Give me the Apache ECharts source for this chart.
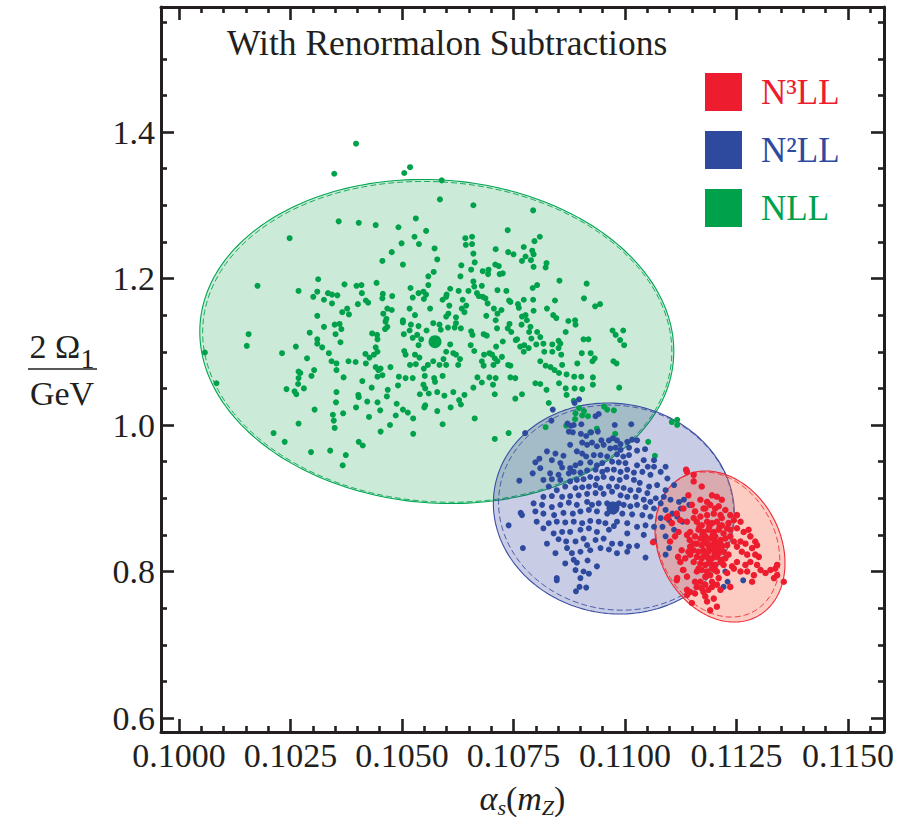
<!DOCTYPE html>
<html><head><meta charset="utf-8">
<script src="https://cdn.jsdelivr.net/npm/echarts@6/dist/echarts.min.js"></script>
<style>html,body{margin:0;padding:0;background:#fff}#c{width:919px;height:819px}</style>
</head><body><div id="c"></div><script>
const FONT = '"Liberation Serif", "Times New Roman", serif';
const INK = '#231f20';

const xMajorTicks = [0.1000, 0.1025, 0.1050, 0.1075, 0.1100, 0.1125, 0.1150];
const xMinorTicks = [0.1005, 0.1010, 0.1015, 0.1020, 0.1030, 0.1035, 0.1040, 0.1045, 0.1055, 0.1060, 0.1065, 0.1070,
  0.1080, 0.1085, 0.1090, 0.1095, 0.1105, 0.1110, 0.1115, 0.1120, 0.1130, 0.1135, 0.1140, 0.1145, 0.1155];
const yMajorTicks = [0.6, 0.8, 1.0, 1.2, 1.4];
const yMinorTicks = [0.65, 0.70, 0.75, 0.85, 0.90, 0.95, 1.05, 1.10, 1.15, 1.25, 1.30, 1.35, 1.45, 1.50, 1.55];
const xRange = [0.099596, 0.115807];
const yRange = [0.58089, 1.57065];

const seriesNames = ['N³LL', 'N²LL', 'NLL'];

// ellipse parameters: [centre x, centre y, half-width x, half-height y, correlation]
const nllEllipse = [0.10578, 1.1140, 0.005314, 0.2212, -0.06];
const nllEllipseDashed = [0.10579, 1.1135, 0.005260, 0.2190, -0.06];
const n2llEllipse = [0.10975, 0.8860, 0.002702, 0.1440, -0.05];
const n2llEllipseDashed = [0.10980, 0.8872, 0.002635, 0.1400, -0.05];
const n3llEllipse = [0.11213, 0.8341, 0.001457, 0.1031, -0.22];
const n3llEllipseDashed = [0.11208, 0.8368, 0.001390, 0.0990, -0.22];

const nllCentre = [[0.10574, 1.1137]];
const n2llCentre = [[0.10973, 0.8867]];
const n3llCentre = [[0.11210, 0.8360]];

const nllPoints = [
[0.10397,1.384],[0.10348,1.343],[0.10505,1.344],[0.10358,1.278],[0.10403,1.276],[0.10441,1.273],[0.10492,1.270],[0.10248,1.255],[0.10499,1.248],[0.10477,1.236],[0.10456,1.224],[0.10502,1.219],[0.10176,1.190],[0.10312,1.199],[0.10268,1.183],[0.10371,1.192],[0.10398,1.190],[0.10409,1.191],[0.10443,1.194],[0.10310,1.182],[0.10301,1.175],[0.10325,1.171],[0.10334,1.180],[0.10343,1.178],[0.10355,1.177],[0.10343,1.166],[0.10410,1.180],[0.10401,1.165],[0.10419,1.170],[0.10424,1.167],[0.10457,1.179],[0.10456,1.173],[0.10478,1.176],[0.10519,1.187],[0.10377,1.159],[0.10366,1.154],[0.10381,1.151],[0.10310,1.149],[0.10467,1.159],[0.10477,1.157],[0.10458,1.152],[0.10465,1.145],[0.10463,1.141],[0.10517,1.159],[0.10502,1.143],[0.10502,1.140],[0.10325,1.134],[0.10349,1.137],[0.10360,1.138],[0.10364,1.131],[0.10351,1.124],[0.10293,1.126],[0.10156,1.124],[0.10152,1.108],[0.10310,1.117],[0.10310,1.111],[0.10321,1.106],[0.10336,1.098],[0.10362,1.113],[0.10262,1.107],[0.10231,1.098],[0.10058,1.099],[0.10433,1.125],[0.10444,1.123],[0.10445,1.117],[0.10467,1.134],[0.10462,1.131],[0.10504,1.124],[0.10517,1.129],[0.10441,1.106],[0.10445,1.100],[0.10437,1.096],[0.10427,1.092],[0.10418,1.097],[0.10505,1.101],[0.10508,1.096],[0.10287,1.091],[0.10342,1.087],[0.10353,1.084],[0.10380,1.087],[0.10396,1.086],[0.10419,1.084],[0.10474,1.079],[0.10441,1.079],[0.10447,1.075],[0.10452,1.077],[0.10456,1.068],[0.10445,1.066],[0.10493,1.066],[0.10508,1.064],[0.10268,1.073],[0.10272,1.071],[0.10303,1.075],[0.10297,1.067],[0.10268,1.064],[0.10267,1.056],[0.10280,1.050],[0.10241,1.049],[0.10259,1.046],[0.10263,1.042],[0.10353,1.075],[0.10369,1.065],[0.10411,1.060],[0.10432,1.051],[0.10468,1.048],[0.10491,1.054],[0.10466,1.039],[0.10353,1.045],[0.10402,1.041],[0.10403,1.038],[0.10352,1.031],[0.10422,1.032],[0.10445,1.031],[0.10488,1.029],[0.10304,1.021],[0.10397,1.024],[0.10451,1.020],[0.10502,1.021],[0.10513,1.017],[0.10345,1.014],[0.10368,1.016],[0.10347,1.006],[0.10426,1.011],[0.10486,1.013],[0.10349,0.996],[0.10473,1.000],[0.10452,0.991],[0.10268,1.002],[0.10212,0.989],[0.10237,0.977],[0.10403,0.977],[0.10412,0.972],[0.10296,0.963],[0.10339,0.965],[0.10374,0.959],[0.10367,0.945],[0.10084,1.057],
[0.10518,1.352],[0.10589,1.334],[0.10585,1.308],[0.10660,1.300],[0.10794,1.293],[0.10531,1.282],[0.10737,1.266],[0.10554,1.265],[0.10528,1.257],[0.10538,1.247],[0.10642,1.255],[0.10657,1.257],[0.10643,1.246],[0.10657,1.247],[0.10809,1.257],[0.10797,1.251],[0.10573,1.241],[0.10710,1.240],[0.10660,1.234],[0.10738,1.236],[0.10750,1.233],[0.10773,1.243],[0.10792,1.238],[0.10795,1.233],[0.10777,1.230],[0.10769,1.224],[0.10789,1.225],[0.10795,1.216],[0.10579,1.226],[0.10663,1.222],[0.10824,1.221],[0.10822,1.215],[0.10633,1.218],[0.10631,1.203],[0.10571,1.209],[0.10559,1.203],[0.10655,1.212],[0.10681,1.210],[0.10694,1.212],[0.10693,1.206],[0.10709,1.219],[0.10717,1.217],[0.10719,1.206],[0.10726,1.207],[0.10853,1.197],[0.10914,1.193],[0.10803,1.191],[0.10793,1.187],[0.10537,1.180],[0.10548,1.182],[0.10554,1.178],[0.10524,1.174],[0.10549,1.172],[0.10559,1.191],[0.10608,1.186],[0.10600,1.178],[0.10591,1.171],[0.10599,1.175],[0.10627,1.183],[0.10649,1.183],[0.10662,1.189],[0.10660,1.196],[0.10679,1.190],[0.10672,1.176],[0.10681,1.175],[0.10687,1.173],[0.10668,1.180],[0.10714,1.184],[0.10734,1.183],[0.10636,1.171],[0.10644,1.163],[0.10634,1.159],[0.10692,1.166],[0.10706,1.159],[0.10723,1.157],[0.10740,1.170],[0.10743,1.168],[0.10760,1.165],[0.10762,1.160],[0.10773,1.171],[0.10794,1.171],[0.10795,1.156],[0.10825,1.159],[0.10843,1.170],[0.10839,1.150],[0.10846,1.146],[0.10908,1.173],[0.10933,1.162],[0.10944,1.165],[0.10606,1.163],[0.10563,1.159],[0.10529,1.150],[0.10604,1.152],[0.10599,1.148],[0.10621,1.147],[0.10640,1.154],[0.10621,1.139],[0.10618,1.133],[0.10632,1.132],[0.10603,1.133],[0.10570,1.139],[0.10584,1.137],[0.10587,1.130],[0.10555,1.129],[0.10537,1.135],[0.10520,1.137],[0.10524,1.119],[0.10534,1.123],[0.10543,1.117],[0.10537,1.109],[0.10689,1.149],[0.10714,1.152],[0.10741,1.138],[0.10710,1.143],[0.10737,1.132],[0.10713,1.132],[0.10769,1.148],[0.10777,1.150],[0.10780,1.143],[0.10788,1.134],[0.10768,1.137],[0.10785,1.127],[0.10803,1.127],[0.10810,1.120],[0.10790,1.118],[0.10774,1.109],[0.10784,1.105],[0.10773,1.100],[0.10758,1.117],[0.10765,1.107],[0.10801,1.110],[0.10817,1.111],[0.10837,1.110],[0.10851,1.115],[0.10855,1.111],[0.10851,1.105],[0.10819,1.100],[0.10837,1.100],[0.10857,1.096],[0.10867,1.127],[0.10873,1.142],[0.10888,1.143],[0.10889,1.137],[0.10907,1.117],[0.10918,1.117],[0.10903,1.098],[0.10923,1.098],[0.10932,1.091],[0.10927,1.087],[0.10972,1.129],[0.10996,1.129],[0.10979,1.123],[0.10989,1.116],[0.10998,1.109],[0.10974,1.087],[0.10981,1.084],[0.10655,1.128],[0.10658,1.123],[0.10683,1.124],[0.10690,1.122],[0.10726,1.114],[0.10745,1.127],[0.10755,1.116],[0.10654,1.109],[0.10662,1.101],[0.10696,1.098],[0.10702,1.096],[0.10684,1.096],[0.10679,1.087],[0.10683,1.081],[0.10708,1.091],[0.10705,1.082],[0.10714,1.087],[0.10724,1.093],[0.10711,1.107],[0.10738,1.082],[0.10743,1.081],[0.10810,1.087],[0.10822,1.081],[0.10833,1.079],[0.10842,1.075],[0.10852,1.071],[0.10859,1.082],[0.10869,1.069],[0.10886,1.066],[0.10893,1.084],[0.10902,1.066],[0.10928,1.065],[0.10608,1.110],[0.10615,1.098],[0.10599,1.100],[0.10593,1.090],[0.10599,1.082],[0.10630,1.090],[0.10626,1.082],[0.10621,1.096],[0.10529,1.096],[0.10539,1.092],[0.10518,1.082],[0.10531,1.083],[0.10558,1.082],[0.10570,1.087],[0.10584,1.082],[0.10549,1.077],[0.10524,1.064],[0.10551,1.067],[0.10572,1.064],[0.10574,1.059],[0.10591,1.067],[0.10548,1.055],[0.10552,1.050],[0.10560,1.043],[0.10540,1.042],[0.10579,1.045],[0.10595,1.040],[0.10615,1.045],[0.10628,1.034],[0.10632,1.028],[0.10609,1.024],[0.10640,1.041],[0.10552,1.027],[0.10550,1.024],[0.10579,1.019],[0.10669,1.065],[0.10679,1.058],[0.10696,1.065],[0.10710,1.064],[0.10743,1.065],[0.10754,1.064],[0.10704,1.055],[0.10708,1.042],[0.10660,1.051],[0.10663,1.009],[0.10591,1.001],[0.10525,1.009],[0.10525,0.988],[0.10739,0.989],[0.10708,0.981],[0.10754,1.036],[0.10769,1.042],[0.10799,1.057],[0.10810,1.056],[0.10824,1.048],[0.10852,1.057],[0.10867,1.050],[0.10869,1.041],[0.10887,1.050],[0.10904,1.049],[0.10928,1.055],[0.10987,1.051],[0.10885,1.033],[0.10897,1.023],[0.10829,1.030],[0.10889,1.016],[0.10904,1.013],[0.10908,1.019],[0.10888,1.008],[0.10917,1.012],[0.10953,1.025],[0.10960,1.021],[0.10975,1.020],[0.10822,0.997],
[0.10937,0.995],[0.10922,0.990],[0.10978,0.988],[0.10868,0.999],[0.11052,0.977],[0.11067,0.958],[0.11105,1.004],[0.11117,1.007],[0.11117,1.000]
];

const n2llPoints = [
[0.10887,1.030],[0.10897,1.035],[0.10838,1.021],[0.10835,1.006],[0.10776,0.989],[0.10871,1.002],[0.10879,0.999],[0.10885,1.000],[0.10902,1.001],[0.10934,1.012],[0.10941,1.015],[0.10977,1.000],[0.11014,1.001],[0.10874,0.991],[0.10883,0.990],[0.10901,0.988],[0.10913,0.985],[0.10924,0.990],[0.10939,0.991],[0.10947,0.979],[0.10964,0.979],[0.10973,0.982],[0.10982,0.979],[0.10990,0.974],[0.11005,0.977],[0.11016,0.980],[0.11027,0.979],[0.10877,0.973],[0.10904,0.976],[0.10915,0.973],[0.10926,0.976],[0.10937,0.971],[0.10952,0.973],[0.10967,0.968],[0.10979,0.969],[0.10990,0.966],[0.11009,0.969],[0.11027,0.965],[0.10825,0.964],[0.10844,0.961],[0.10862,0.958],[0.10892,0.964],[0.10904,0.961],[0.10913,0.957],[0.10930,0.959],[0.10945,0.959],[0.10960,0.957],[0.10982,0.960],[0.10996,0.957],[0.11009,0.959],[0.11045,0.967],[0.11065,0.952],[0.11091,0.943],[0.11065,0.943],[0.11051,0.943],[0.11042,0.952],[0.10799,0.949],[0.10808,0.954],[0.10836,0.952],[0.10855,0.948],[0.10859,0.942],[0.10877,0.941],[0.10889,0.945],[0.10900,0.948],[0.10922,0.949],[0.10937,0.945],[0.10949,0.948],[0.10971,0.950],[0.10986,0.949],[0.11001,0.948],[0.11027,0.945],[0.10793,0.934],[0.10810,0.941],[0.10832,0.934],[0.10851,0.932],[0.10874,0.934],[0.10885,0.936],[0.10900,0.935],[0.10915,0.938],[0.10934,0.939],[0.10949,0.936],[0.10960,0.939],[0.10975,0.939],[0.10990,0.936],[0.11005,0.939],[0.11020,0.935],[0.11039,0.936],[0.11057,0.932],[0.11080,0.936],[0.11095,0.927],[0.10763,0.924],[0.10817,0.925],[0.10836,0.926],[0.10855,0.925],[0.10877,0.923],[0.10892,0.925],[0.10907,0.926],[0.10922,0.929],[0.10937,0.927],[0.10952,0.929],[0.10971,0.927],[0.10988,0.925],[0.11003,0.929],[0.11020,0.925],[0.11033,0.921],[0.11054,0.916],[0.11072,0.918],[0.11091,0.911],[0.11110,0.918],[0.10829,0.916],[0.10847,0.911],[0.10866,0.916],[0.10889,0.914],[0.10904,0.915],[0.10919,0.916],[0.10934,0.918],[0.10945,0.914],[0.10964,0.916],[0.10982,0.916],[0.10997,0.914],[0.11012,0.911],[0.11031,0.911],[0.11050,0.907],[0.11069,0.900],[0.11087,0.902],[0.11102,0.898],[0.11121,0.895],[0.10817,0.902],[0.10836,0.903],[0.10859,0.902],[0.10877,0.903],[0.10896,0.904],[0.10915,0.906],[0.10934,0.907],[0.10952,0.906],[0.10971,0.909],[0.10990,0.904],[0.11005,0.902],[0.11024,0.902],[0.11042,0.898],[0.11057,0.895],[0.11080,0.893],[0.11125,0.886],[0.10795,0.893],[0.10814,0.891],[0.10836,0.888],[0.10855,0.891],[0.10874,0.894],[0.10892,0.891],[0.10915,0.895],[0.10926,0.891],[0.10941,0.893],[0.10960,0.893],[0.10971,0.891],[0.10979,0.886],[0.10986,0.893],[0.10997,0.891],[0.11012,0.889],[0.11027,0.891],[0.11046,0.888],[0.11065,0.886],[0.11091,0.884],[0.11106,0.879],[0.10766,0.880],[0.10769,0.877],[0.10799,0.882],[0.10817,0.879],[0.10841,0.877],[0.10862,0.880],[0.10883,0.879],[0.10900,0.882],[0.10919,0.884],[0.10937,0.882],[0.10960,0.879],[0.10975,0.882],[0.10994,0.879],[0.11016,0.878],[0.11039,0.877],[0.11057,0.875],[0.11080,0.873],[0.11099,0.870],[0.11117,0.875],[0.10739,0.863],[0.10802,0.868],[0.10829,0.866],[0.10847,0.868],[0.10866,0.867],[0.10885,0.868],[0.10904,0.866],[0.10922,0.869],[0.10941,0.868],[0.10956,0.866],[0.10982,0.868],[0.11005,0.866],[0.11027,0.861],[0.11046,0.863],[0.11065,0.861],[0.11084,0.861],[0.11110,0.857],[0.10817,0.859],[0.10840,0.852],[0.10859,0.854],[0.10877,0.854],[0.10900,0.857],[0.10919,0.859],[0.10937,0.854],[0.10964,0.857],[0.10975,0.862],[0.11005,0.852],[0.11042,0.850],[0.11065,0.841],[0.11091,0.848],[0.10825,0.838],[0.10851,0.844],[0.10868,0.841],[0.10889,0.841],[0.10907,0.845],[0.10915,0.836],[0.10934,0.843],[0.10952,0.845],[0.10971,0.838],[0.10990,0.838],[0.11009,0.834],[0.11027,0.835],[0.11099,0.832],[0.10771,0.832],[0.10844,0.825],[0.10870,0.832],[0.10881,0.825],[0.10900,0.827],[0.10922,0.829],[0.10945,0.832],[0.10964,0.830],[0.10982,0.825],[0.11005,0.827],[0.11091,0.823],[0.11046,0.819],[0.10885,0.816],[0.10892,0.812],[0.10916,0.815],[0.10937,0.807],[0.10866,0.811],[0.10907,0.800],[0.10847,0.791],[0.10847,0.788],[0.10889,0.802],[0.10900,0.791],[0.10919,0.797],[0.10898,0.779],[0.10913,0.778],[0.10890,0.773],[0.11225,0.800],[0.11230,0.786],[0.11221,0.779],[0.11265,0.788],[0.11132,0.898],[0.11144,0.891],[0.11129,0.868]
];

const n3llPoints = [
[0.11137,0.939],[0.11154,0.932],[0.11154,0.923],[0.11172,0.916],[0.11195,0.904],[0.11206,0.902],[0.11217,0.898],[0.11184,0.895],[0.11169,0.898],[0.11142,0.904],[0.11150,0.891],[0.11131,0.886],[0.11116,0.879],[0.11097,0.875],[0.11124,0.870],[0.11139,0.868],[0.11157,0.882],[0.11176,0.886],[0.11191,0.891],[0.11210,0.889],[0.11225,0.884],[0.11236,0.877],[0.11251,0.877],[0.11259,0.868],[0.11244,0.870],[0.11232,0.866],[0.11236,0.857],[0.11251,0.859],[0.11266,0.854],[0.11277,0.857],[0.11281,0.848],[0.11292,0.841],[0.11296,0.836],[0.11285,0.832],[0.11270,0.838],[0.11259,0.841],[0.11251,0.834],[0.11262,0.827],[0.11274,0.823],[0.11281,0.813],[0.11270,0.809],[0.11251,0.813],[0.11244,0.804],[0.11292,0.823],[0.11300,0.820],[0.11296,0.809],[0.11304,0.802],[0.11315,0.798],[0.11326,0.802],[0.11337,0.804],[0.11341,0.795],[0.11334,0.791],[0.11356,0.786],[0.11341,0.809],[0.11289,0.795],[0.11274,0.800],[0.11285,0.786],[0.11259,0.800],[0.11240,0.807],[0.11221,0.809],[0.11202,0.802],[0.11191,0.795],[0.11180,0.793],[0.11169,0.786],[0.11161,0.779],[0.11146,0.772],[0.11139,0.768],[0.11157,0.770],[0.11176,0.772],[0.11187,0.775],[0.11195,0.779],[0.11180,0.766],[0.11199,0.763],[0.11184,0.759],[0.11206,0.752],[0.11191,0.747],[0.11150,0.757],[0.11131,0.802],[0.11116,0.788],[0.11124,0.813],[0.11112,0.848],[0.11101,0.841],[0.11127,0.829],[0.11120,0.854],[0.11139,0.850],[0.11146,0.854],[0.11146,0.823],[0.11135,0.818],[0.11154,0.813],[0.11161,0.800],[0.11139,0.793],[0.11157,0.786],[0.11214,0.775],[0.11236,0.779],
[0.11161,0.868],[0.11172,0.863],[0.11184,0.868],[0.11195,0.866],[0.11206,0.868],[0.11217,0.863],[0.11229,0.859],[0.11165,0.857],[0.11176,0.854],[0.11187,0.857],[0.11199,0.854],[0.11210,0.857],[0.11221,0.852],[0.11157,0.848],[0.11169,0.845],[0.11180,0.848],[0.11191,0.845],[0.11202,0.848],[0.11214,0.843],[0.11225,0.845],[0.11161,0.838],[0.11172,0.836],[0.11184,0.838],[0.11195,0.836],[0.11206,0.838],[0.11217,0.834],[0.11229,0.836],[0.11154,0.829],[0.11165,0.827],[0.11176,0.829],[0.11187,0.827],[0.11199,0.829],[0.11210,0.825],[0.11221,0.827],[0.11232,0.823],[0.11161,0.820],[0.11172,0.818],[0.11184,0.820],[0.11195,0.818],[0.11206,0.820],[0.11217,0.816],[0.11169,0.811],[0.11180,0.809],[0.11191,0.811],[0.11202,0.809],[0.11214,0.813],[0.11172,0.802],[0.11184,0.800],[0.11195,0.804],[0.11206,0.800],[0.11154,0.838],[0.11145,0.843],[0.11184,0.877],[0.11199,0.879],[0.11214,0.877],[0.11169,0.875],[0.11154,0.873],[0.11180,0.886],[0.11202,0.886],[0.11217,0.873],[0.11236,0.848],[0.11244,0.841],[0.11146,0.834],[0.11142,0.827],[0.11165,0.804],[0.11225,0.818],[0.11229,0.798],[0.11210,0.791],[0.11195,0.786],[0.11180,0.782],[0.11172,0.777],[0.11206,0.782],[0.11167,0.861],[0.11189,0.861],[0.11212,0.861],[0.11178,0.842],[0.11201,0.842],[0.11189,0.833],[0.11212,0.832],[0.11178,0.823],[0.11201,0.823],[0.11189,0.814],[0.11174,0.851],[0.11197,0.851],
[0.11063,0.840],[0.11094,0.873],[0.11105,0.866],[0.11139,0.936],[0.11119,0.820],[0.11117,0.791],[0.11139,0.775],[0.11130,0.802]
];

const GREEN = '#00a14b', BLUE = '#2e4a9e', RED = '#ed1c2e';

function ellipseSeries(par, fill, stroke, dashed) {
  return {
    type: 'custom', silent: true, animation: false, clip: true,
    xAxisIndex: 0, yAxisIndex: 0,
    data: [[par[0], par[1]]],
    renderItem: function (p, api) {
      const cx = par[0], cy = par[1], sx = par[2], sy = par[3], rho = par[4];
      const q = Math.sqrt(1 - rho * rho);
      const pts = [];
      for (let i = 0; i < 240; i++) {
        const t = i / 240 * 2 * Math.PI;
        pts.push(api.coord([cx + sx * Math.cos(t), cy + sy * (rho * Math.cos(t) + q * Math.sin(t))]));
      }
      return { type: 'polygon', shape: { points: pts },
        style: { fill: fill || 'none', stroke: stroke, lineWidth: dashed ? 0.9 : 1.1, lineDash: dashed ? [6, 3] : null } };
    }
  };
}
function dots(name, pts, color, size) {
  return { type: 'scatter', name: name, data: pts, symbol: 'circle', symbolSize: size,
    itemStyle: { color: color, opacity: 1 }, animation: false, silent: true, xAxisIndex: 0, yAxisIndex: 0 };
}

function xAxisDef(pos, ticks, len, withLabels, withLine) {
  const a = { type: 'value', position: pos, min: xRange[0], max: xRange[1], gridIndex: 0,
    axisLine: { show: withLine, onZero: false, lineStyle: { color: INK, width: 3 } },
    axisTick: { show: true, inside: true, length: len, customValues: ticks, lineStyle: { color: INK, width: 2.6 } },
    axisLabel: { show: false }, splitLine: { show: false } };
  if (withLabels) {
    a.axisLabel = { show: true, customValues: ticks, formatter: v => v.toFixed(4), margin: 6,
      fontFamily: FONT, fontSize: 34, color: INK };
    a.name = '{i|α}{si|s}{n|(}{i|m}{si|Z}{n|)}';
    a.nameLocation = 'middle';
    a.nameGap = 49;
    a.nameTextStyle = { rich: {
      i: { fontFamily: FONT, fontStyle: 'italic', fontSize: 34, color: INK, lineHeight: 34 },
      n: { fontFamily: FONT, fontSize: 34, color: INK, lineHeight: 34 },
      si: { fontFamily: FONT, fontStyle: 'italic', fontSize: 22, color: INK, lineHeight: 12, verticalAlign: 'top', padding: [15, 0, 0, 0] }
    } };
  }
  return a;
}
function yAxisDef(pos, ticks, len, withLabels, withLine) {
  const a = { type: 'value', position: pos, min: yRange[0], max: yRange[1], gridIndex: 0,
    axisLine: { show: withLine, onZero: false, lineStyle: { color: INK, width: 3 } },
    axisTick: { show: true, inside: true, length: len, customValues: ticks, lineStyle: { color: INK, width: 2.6 } },
    axisLabel: { show: false }, splitLine: { show: false } };
  if (withLabels) {
    a.axisLabel = { show: true, customValues: ticks, formatter: v => v.toFixed(1), margin: 6,
      fontFamily: FONT, fontSize: 34, color: INK };
  }
  return a;
}

const chart = echarts.init(document.getElementById('c'), null, { renderer: 'svg', width: 919, height: 819 });
chart.setOption({
  animation: false,
  backgroundColor: '#ffffff',
  grid: { left: 161, right: 35, top: 7, bottom: 87, containLabel: false, outerBoundsMode: 'none' },
  title: { text: 'With Renormalon Subtractions', left: 227, top: 25, padding: 0,
    textStyle: { fontFamily: FONT, fontSize: 35.5, fontWeight: 'normal', color: INK } },
  legend: {
    orient: 'vertical', left: 705, top: 73, padding: 0, itemWidth: 37, itemHeight: 38, itemGap: 20,
    icon: 'rect', selectedMode: false,
    textStyle: { fontFamily: FONT, fontSize: 35, padding: [0, 0, 0, 14] },
    data: [
      { name: seriesNames[0], textStyle: { color: RED } },
      { name: seriesNames[1], textStyle: { color: BLUE } },
      { name: seriesNames[2], textStyle: { color: GREEN } }
    ]
  },
  xAxis: [
    xAxisDef('bottom', xMajorTicks, 13, true, true),
    xAxisDef('bottom', xMinorTicks, 6, false, false),
    xAxisDef('top', xMajorTicks, 13, false, true),
    xAxisDef('top', xMinorTicks, 6, false, false)
  ],
  yAxis: [
    yAxisDef('left', yMajorTicks, 13, true, true),
    yAxisDef('left', yMinorTicks, 6, false, false),
    yAxisDef('right', yMajorTicks, 13, false, true),
    yAxisDef('right', yMinorTicks, 6, false, false)
  ],
  graphic: [
    { type: 'text', style: { x: 62, y: 346, text: '{a|2 Ω}{s|1}', textAlign: 'center', textVerticalAlign: 'middle',
      rich: { a: { fontFamily: FONT, fontSize: 34, fill: INK, lineHeight: 40 },
              s: { fontFamily: FONT, fontSize: 28, fill: INK, lineHeight: 20, verticalAlign: 'top', padding: [18, 0, 0, 0] } } } },
    { type: 'line', shape: { x1: 28, y1: 369, x2: 97, y2: 369 }, style: { stroke: INK, lineWidth: 1.6 } },
    { type: 'text', style: { x: 62, y: 393, text: 'GeV', textAlign: 'center', textVerticalAlign: 'middle',
      fontFamily: FONT, fontSize: 34, fill: INK } }
  ],
  series: [
    ellipseSeries(nllEllipse, 'rgba(0,150,60,0.2)', '#00a651', false),
    ellipseSeries(nllEllipseDashed, null, '#00a651', true),
    ellipseSeries(n2llEllipse, 'rgba(40,50,150,0.25)', '#3a4fa3', false),
    ellipseSeries(n2llEllipseDashed, null, '#3a4fa3', true),
    ellipseSeries(n3llEllipse, 'rgba(245,110,80,0.35)', '#ee2a36', false),
    ellipseSeries(n3llEllipseDashed, null, '#ee2a36', true),
    dots(seriesNames[2], nllPoints, GREEN, 6),
    dots(seriesNames[1], n2llPoints, BLUE, 6),
    dots(seriesNames[0], n3llPoints, RED, 6.5),
    dots('NLL centre', nllCentre, GREEN, 13),
    dots('N2LL centre', n2llCentre, BLUE, 13),
    dots('N3LL centre', n3llCentre, RED, 11)
  ]
});
</script></body></html>
